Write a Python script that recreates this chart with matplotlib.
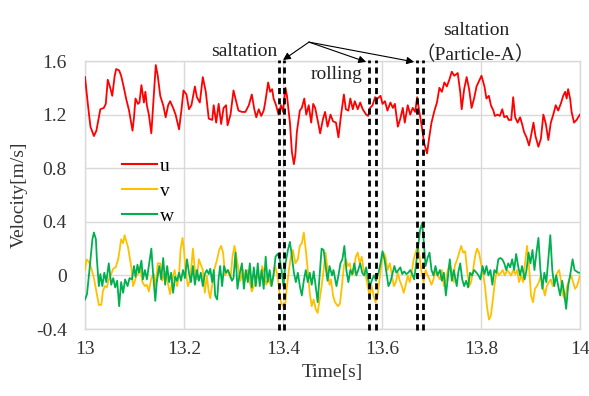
import matplotlib
matplotlib.use("Agg")
import matplotlib.pyplot as plt

plt.rcParams['font.family'] = ['Liberation Serif', 'Noto Sans CJK SC', 'DejaVu Sans']

# ---------------- data ----------------
u_t = [13.000, 13.006, 13.011, 13.018, 13.023, 13.026, 13.031, 13.038, 13.042, 13.046,
       13.051, 13.055, 13.060, 13.063, 13.069, 13.073, 13.078, 13.083, 13.089, 13.096,
       13.099, 13.102, 13.107, 13.110, 13.114, 13.119, 13.122, 13.125, 13.129, 13.134,
       13.139, 13.143, 13.147, 13.152, 13.158, 13.163, 13.168, 13.172, 13.178, 13.183,
       13.190, 13.195, 13.199, 13.205, 13.210, 13.215, 13.222, 13.226, 13.232, 13.238,
       13.244, 13.250, 13.257, 13.260, 13.265, 13.270, 13.275, 13.280, 13.285, 13.288,
       13.294, 13.300, 13.306, 13.310, 13.317, 13.324, 13.331, 13.337, 13.342, 13.346,
       13.351, 13.356, 13.361, 13.364, 13.370, 13.374, 13.378, 13.381, 13.386, 13.391,
       13.396, 13.400, 13.405, 13.408, 13.414, 13.418, 13.422, 13.425, 13.428, 13.434,
       13.438, 13.443, 13.447, 13.452, 13.457, 13.461, 13.465, 13.471, 13.475, 13.481,
       13.485, 13.490, 13.496, 13.501, 13.507, 13.512, 13.517, 13.523, 13.527, 13.532,
       13.536, 13.541, 13.545, 13.551, 13.556, 13.561, 13.568, 13.572, 13.576, 13.581,
       13.586, 13.591, 13.597, 13.601, 13.606, 13.611, 13.617, 13.622, 13.626, 13.632,
       13.637, 13.642, 13.646, 13.652, 13.657, 13.662, 13.667, 13.671, 13.675, 13.680,
       13.685, 13.691, 13.695, 13.700, 13.706, 13.711, 13.716, 13.721, 13.726, 13.731,
       13.736, 13.741, 13.746, 13.753, 13.758, 13.761, 13.766, 13.771, 13.776, 13.781,
       13.786, 13.791, 13.796, 13.801, 13.807, 13.811, 13.816, 13.820, 13.825, 13.828,
       13.834, 13.838, 13.843, 13.847, 13.852, 13.856, 13.861, 13.865, 13.869, 13.874,
       13.879, 13.883, 13.887, 13.892, 13.897, 13.901, 13.906, 13.910, 13.916, 13.921,
       13.926, 13.931, 13.936, 13.941, 13.946, 13.951, 13.956, 13.962, 13.966, 13.970,
       13.973, 13.976, 13.980, 13.983, 13.988, 13.993, 13.998, 14.000]
u_v = [1.48, 1.27, 1.11, 1.04, 1.08, 1.14, 1.24, 1.25, 1.28, 1.46,
       1.40, 1.34, 1.49, 1.54, 1.53, 1.49, 1.41, 1.32, 1.23, 1.08,
       1.18, 1.32, 1.28, 1.29, 1.42, 1.29, 1.37, 1.27, 1.20, 1.06,
       1.34, 1.57, 1.49, 1.34, 1.27, 1.18, 1.27, 1.30, 1.25, 1.20,
       1.09, 1.24, 1.38, 1.35, 1.24, 1.27, 1.41, 1.33, 1.29, 1.48,
       1.37, 1.17, 1.16, 1.27, 1.14, 1.28, 1.13, 1.25, 1.27, 1.12,
       1.20, 1.38, 1.29, 1.23, 1.22, 1.22, 1.27, 1.35, 1.24, 1.18,
       1.24, 1.19, 1.23, 1.29, 1.44, 1.37, 1.39, 1.32, 1.27, 1.20,
       1.27, 1.22, 1.40, 1.34, 1.14, 0.92, 0.83, 0.90, 1.07, 1.23,
       1.25, 1.32, 1.20, 1.27, 1.14, 1.28, 1.25, 1.14, 1.06, 1.17,
       1.22, 1.11, 1.20, 1.15, 1.14, 1.03, 1.19, 1.35, 1.24, 1.23,
       1.32, 1.24, 1.30, 1.24, 1.29, 1.24, 1.20, 1.19, 1.25, 1.27,
       1.33, 1.32, 1.34, 1.28, 1.30, 1.23, 1.29, 1.25, 1.28, 1.11,
       1.17, 1.25, 1.14, 1.27, 1.20, 1.25, 1.22, 1.33, 1.23, 1.12,
       0.99, 0.91, 1.02, 1.14, 1.23, 1.29, 1.40, 1.37, 1.44, 1.41,
       1.46, 1.52, 1.49, 1.51, 1.37, 1.24, 1.39, 1.48, 1.39, 1.25,
       1.32, 1.41, 1.45, 1.49, 1.41, 1.32, 1.34, 1.27, 1.23, 1.19,
       1.20, 1.19, 1.24, 1.18, 1.19, 1.16, 1.16, 1.33, 1.18, 1.14,
       1.18, 1.13, 1.07, 1.03, 0.97, 1.04, 1.14, 1.04, 0.96, 1.02,
       1.20, 1.13, 1.01, 1.14, 1.20, 1.27, 1.23, 1.29, 1.34, 1.37,
       1.32, 1.39, 1.32, 1.22, 1.14, 1.16, 1.19, 1.20]

v_t = [13.000, 13.003, 13.008, 13.013, 13.018, 13.023, 13.028, 13.033, 13.036, 13.040,
       13.044, 13.048, 13.053, 13.057, 13.062, 13.067, 13.070, 13.073, 13.077, 13.080,
       13.083, 13.087, 13.090, 13.094, 13.097, 13.100, 13.104, 13.107, 13.112, 13.116,
       13.121, 13.125, 13.129, 13.134, 13.139, 13.143, 13.147, 13.152, 13.156, 13.161,
       13.164, 13.168, 13.172, 13.176, 13.181, 13.186, 13.190, 13.193, 13.197, 13.200,
       13.203, 13.208, 13.212, 13.215, 13.218, 13.222, 13.226, 13.230, 13.234, 13.238,
       13.242, 13.246, 13.250, 13.253, 13.257, 13.261, 13.267, 13.271, 13.275, 13.279,
       13.283, 13.288, 13.294, 13.298, 13.302, 13.306, 13.311, 13.314, 13.319, 13.324,
       13.329, 13.333, 13.337, 13.342, 13.347, 13.353, 13.358, 13.362, 13.366, 13.371,
       13.376, 13.380, 13.384, 13.389, 13.393, 13.396, 13.400, 13.405, 13.408, 13.412,
       13.416, 13.420, 13.425, 13.430, 13.434, 13.438, 13.442, 13.446, 13.450, 13.454,
       13.458, 13.462, 13.466, 13.470, 13.474, 13.478, 13.482, 13.486, 13.490, 13.494,
       13.497, 13.501, 13.505, 13.511, 13.515, 13.519, 13.523, 13.527, 13.531, 13.535,
       13.539, 13.543, 13.547, 13.551, 13.555, 13.559, 13.563, 13.567, 13.571, 13.575,
       13.579, 13.583, 13.587, 13.591, 13.595, 13.599, 13.603, 13.607, 13.611, 13.616,
       13.620, 13.624, 13.628, 13.632, 13.636, 13.640, 13.644, 13.648, 13.652, 13.656,
       13.660, 13.664, 13.668, 13.672, 13.676, 13.680, 13.684, 13.688, 13.692, 13.696,
       13.700, 13.704, 13.708, 13.712, 13.717, 13.721, 13.725, 13.729, 13.733, 13.737,
       13.741, 13.745, 13.747, 13.752, 13.756, 13.760, 13.764, 13.768, 13.772, 13.776,
       13.780, 13.784, 13.788, 13.792, 13.796, 13.800, 13.804, 13.808, 13.812, 13.816,
       13.820, 13.824, 13.828, 13.832, 13.836, 13.840, 13.844, 13.848, 13.853, 13.857,
       13.861, 13.865, 13.869, 13.873, 13.877, 13.881, 13.885, 13.889, 13.893, 13.897,
       13.901, 13.905, 13.909, 13.913, 13.917, 13.921, 13.925, 13.929, 13.933, 13.937,
       13.941, 13.945, 13.949, 13.954, 13.958, 13.962, 13.966, 13.970, 13.974, 13.978,
       13.982, 13.986, 13.990, 13.994, 13.998, 14.000]
v_v = [0.04, 0.12, 0.10, 0.05, -0.02, -0.12, -0.22, -0.22, -0.12, -0.08,
       -0.09, -0.03, 0.01, 0.05, 0.06, 0.12, 0.19, 0.27, 0.24, 0.30,
       0.26, 0.21, 0.14, 0.05, -0.08, -0.05, 0.00, 0.01, 0.05, -0.05,
       -0.08, -0.07, -0.12, -0.02, 0.01, -0.08, 0.09, 0.09, -0.04, 0.02,
       0.03, -0.07, -0.14, -0.04, 0.04, -0.08, 0.00, 0.19, 0.28, 0.19,
       0.04, -0.08, -0.04, 0.07, 0.20, 0.04, -0.03, 0.12, 0.08, 0.04,
       -0.13, 0.00, -0.12, -0.17, -0.07, 0.04, 0.12, 0.19, 0.22, 0.17,
       0.00, 0.04, -0.02, 0.14, 0.22, 0.14, 0.02, -0.04, 0.04, -0.04,
       0.04, -0.05, -0.12, -0.07, 0.00, -0.04, 0.07, 0.02, -0.07, -0.02,
       -0.08, -0.02, 0.07, 0.00, -0.13, -0.20, -0.23, -0.20, -0.08, 0.04,
       0.14, 0.19, 0.09, 0.12, 0.22, 0.24, 0.32, 0.19, 0.04, -0.13,
       -0.23, -0.18, -0.25, -0.28, -0.18, -0.08, 0.04, 0.17, 0.04, -0.07,
       -0.03, -0.15, -0.20, -0.23, -0.21, -0.08, 0.07, 0.12, 0.07, 0.09,
       0.00, 0.02, 0.14, 0.17, 0.09, 0.14, 0.04, 0.00, -0.08, -0.15,
       -0.08, -0.15, -0.20, -0.15, -0.03, 0.09, 0.17, 0.14, 0.04, 0.09,
       0.00, -0.08, -0.05, 0.02, -0.04, -0.08, -0.13, -0.07, 0.00, -0.05,
       0.02, 0.12, 0.17, 0.22, 0.14, 0.02, -0.05, 0.04, 0.00, -0.03,
       -0.07, -0.03, 0.04, 0.00, -0.03, 0.04, -0.08, -0.04, 0.04, 0.09,
       0.02, -0.05, 0.07, 0.12, 0.17, 0.22, 0.17, 0.18, 0.04, -0.08,
       -0.05, 0.04, 0.14, 0.20, 0.17, 0.09, 0.02, -0.08, -0.23, -0.33,
       -0.30, -0.18, -0.05, 0.04, 0.00, 0.02, 0.04, 0.00, 0.04, 0.02,
       0.00, 0.04, 0.01, 0.04, -0.05, 0.00, -0.05, 0.09, 0.22, 0.07,
       -0.15, -0.20, -0.10, -0.08, -0.05, 0.00, -0.08, -0.15, -0.08, -0.05,
       -0.03, -0.08, -0.03, 0.02, 0.04, -0.05, -0.15, -0.18, -0.08, -0.03,
       0.00, -0.05, -0.10, -0.08, -0.03, 0.00]

w_t = [13.000, 13.004, 13.009, 13.015, 13.018, 13.022, 13.024, 13.028, 13.031, 13.035,
       13.039, 13.043, 13.048, 13.053, 13.057, 13.061, 13.065, 13.069, 13.073, 13.077,
       13.081, 13.086, 13.090, 13.095, 13.099, 13.102, 13.106, 13.109, 13.114, 13.117,
       13.121, 13.125, 13.129, 13.134, 13.137, 13.142, 13.145, 13.150, 13.154, 13.158,
       13.162, 13.166, 13.170, 13.174, 13.178, 13.182, 13.186, 13.190, 13.194, 13.198,
       13.202, 13.206, 13.210, 13.214, 13.218, 13.222, 13.226, 13.230, 13.234, 13.238,
       13.242, 13.246, 13.250, 13.253, 13.257, 13.260, 13.263, 13.267, 13.270, 13.273,
       13.277, 13.281, 13.285, 13.289, 13.292, 13.297, 13.300, 13.304, 13.308, 13.312,
       13.317, 13.321, 13.325, 13.329, 13.333, 13.337, 13.341, 13.345, 13.349, 13.353,
       13.357, 13.361, 13.365, 13.369, 13.373, 13.377, 13.381, 13.385, 13.389, 13.393,
       13.397, 13.401, 13.405, 13.410, 13.414, 13.418, 13.422, 13.426, 13.430, 13.434,
       13.438, 13.442, 13.446, 13.450, 13.454, 13.458, 13.462, 13.466, 13.470, 13.474,
       13.478, 13.482, 13.486, 13.490, 13.494, 13.499, 13.502, 13.508, 13.512, 13.516,
       13.520, 13.524, 13.528, 13.532, 13.536, 13.540, 13.544, 13.548, 13.552, 13.556,
       13.560, 13.564, 13.568, 13.572, 13.576, 13.580, 13.584, 13.588, 13.593, 13.597,
       13.601, 13.605, 13.609, 13.613, 13.617, 13.621, 13.625, 13.629, 13.633, 13.637,
       13.641, 13.645, 13.649, 13.653, 13.657, 13.661, 13.665, 13.669, 13.673, 13.677,
       13.681, 13.684, 13.688, 13.692, 13.696, 13.700, 13.704, 13.708, 13.712, 13.717,
       13.721, 13.725, 13.729, 13.733, 13.737, 13.741, 13.745, 13.751, 13.754, 13.758,
       13.762, 13.766, 13.770, 13.774, 13.778, 13.782, 13.786, 13.791, 13.795, 13.799,
       13.803, 13.807, 13.811, 13.815, 13.819, 13.823, 13.827, 13.831, 13.835, 13.839,
       13.843, 13.847, 13.851, 13.855, 13.859, 13.863, 13.867, 13.871, 13.875, 13.879,
       13.883, 13.888, 13.892, 13.896, 13.900, 13.904, 13.908, 13.912, 13.916, 13.920,
       13.924, 13.928, 13.932, 13.936, 13.940, 13.944, 13.948, 13.952, 13.956, 13.960,
       13.964, 13.968, 13.972, 13.976, 13.980, 13.985, 13.989, 13.993, 13.997, 14.000]
w_v = [-0.18, -0.14, 0.04, 0.27, 0.32, 0.27, 0.12, -0.08, 0.01, -0.08,
       0.02, -0.05, 0.09, -0.07, -0.02, -0.09, -0.04, -0.23, -0.05, -0.13,
       -0.03, -0.08, -0.02, -0.03, 0.07, -0.01, 0.08, 0.02, 0.11, -0.03,
       0.04, -0.03, 0.07, 0.20, 0.04, -0.19, -0.05, 0.07, -0.03, 0.13,
       -0.07, 0.07, -0.05, 0.02, -0.13, -0.01, -0.04, 0.02, -0.04, 0.04,
       -0.02, 0.12, 0.02, -0.05, 0.07, -0.07, 0.04, -0.04, 0.02, -0.08,
       0.01, 0.04, 0.01, 0.05, -0.05, 0.04, -0.15, -0.18, -0.02, 0.07,
       -0.08, 0.07, 0.02, 0.04, 0.01, -0.04, -0.02, 0.17, -0.10, 0.00,
       0.09, -0.10, 0.04, -0.05, 0.09, -0.09, 0.06, -0.08, 0.09, -0.08,
       0.04, -0.10, 0.14, -0.05, 0.04, -0.08, 0.01, 0.14, 0.16, 0.13,
       0.04, -0.08, 0.09, 0.19, 0.25, 0.14, 0.02, -0.05, 0.02, -0.08,
       -0.15, -0.04, 0.04, -0.05, 0.02, -0.07, 0.03, -0.08, -0.20, 0.00,
       0.20, 0.19, 0.07, -0.04, 0.07, 0.00, 0.04, -0.08, 0.00, 0.09,
       0.12, 0.22, 0.04, -0.05, 0.04, 0.01, 0.09, 0.00, 0.04, 0.09,
       0.02, 0.00, 0.06, -0.03, -0.08, -0.03, 0.00, -0.04, 0.02, 0.09,
       0.18, 0.12, 0.02, -0.08, -0.05, 0.01, 0.07, 0.02, 0.04, 0.06,
       0.01, 0.03, 0.01, 0.02, 0.04, 0.01, -0.03, 0.09, 0.22, 0.34,
       0.39, 0.27, 0.07, 0.13, 0.17, 0.04, 0.00, 0.07, 0.00, 0.04,
       -0.04, 0.02, -0.15, -0.02, 0.12, -0.04, 0.04, -0.08, 0.02, 0.09,
       -0.03, -0.08, -0.04, -0.09, 0.02, 0.00, 0.04, 0.02, 0.00, -0.03,
       0.07, 0.01, 0.07, 0.00, 0.04, -0.07, 0.04, 0.02, 0.12, 0.13,
       0.12, 0.09, 0.04, 0.09, 0.06, 0.12, 0.04, 0.16, 0.07, 0.00,
       0.07, -0.03, 0.04, 0.17, 0.09, 0.19, 0.04, 0.17, 0.28, 0.04,
       -0.10, 0.02, -0.05, 0.12, 0.30, 0.04, -0.08, 0.00, -0.08, -0.15,
       -0.04, -0.13, -0.25, -0.08, 0.00, 0.12, 0.04, 0.03, 0.02, 0.02]

series_names = ['u', 'v', 'w']
series_colors = ['#ff0000', '#ffc000', '#00b050']

x_ticks = [13.0, 13.2, 13.4, 13.6, 13.8, 14.0]
x_ticklabels = ['13', '13.2', '13.4', '13.6', '13.8', '14']
y_ticks = [-0.4, 0.0, 0.4, 0.8, 1.2, 1.6]
y_ticklabels = ['-0.4', '0', '0.4', '0.8', '1.2', '1.6']

event_lines = [13.392, 13.402, 13.574, 13.588, 13.671, 13.683]
arrow_origin = (13.4525, 1.741)
arrow_targets = [(13.400, 1.607), (13.568, 1.593), (13.665, 1.593)]

# ---------------- figure ----------------
fig = plt.figure(figsize=(5.89, 3.96), dpi=100)
ax = fig.add_axes([85 / 589, 1 - 329 / 396, 495 / 589, 268 / 396])

for t, vals, name, col in zip([u_t, v_t, w_t], [u_v, v_v, w_v], series_names, series_colors):
    ax.plot(t, vals, color=col, lw=1.3, label=name, zorder=3)

ax.set_xlim(13.0, 14.0)
ax.set_ylim(-0.4, 1.6)
ax.set_xticks(x_ticks)
ax.set_xticklabels(x_ticklabels)
ax.set_yticks(y_ticks)
ax.set_yticklabels(y_ticklabels)
ax.tick_params(axis='both', length=0, labelsize=14, colors='#333333')
ax.tick_params(axis='y', pad=13)
ax.tick_params(axis='x', pad=9)
ax.grid(True, color='#d9d9d9', lw=1.0, zorder=0)
for s in ax.spines.values():
    s.set_color('#d9d9d9')
    s.set_linewidth(1.0)

ax.set_xlabel('Time[s]', fontsize=14, labelpad=4, color='#333333')
ax.set_ylabel('Velocity[m/s]', fontsize=14, labelpad=6, color='#333333')

# dashed event lines
for xe in event_lines:
    ax.plot([xe, xe], [-0.41, 1.61], color='black', lw=2.0, ls=(0, (2.2, 1.5)),
            clip_on=False, zorder=4)

# annotation arrows
for tgt in arrow_targets:
    ax.annotate('', xy=tgt, xytext=arrow_origin, annotation_clip=False,
                arrowprops=dict(arrowstyle='-|>', color='black', lw=0.8,
                                mutation_scale=11, shrinkA=0, shrinkB=0))

ax.text(13.321, 1.674, 'saltation', fontsize=14, ha='center', va='center', color='#222222')
ax.text(13.509, 1.496, 'rolling', fontsize=14, ha='center', va='center', color='#222222')
ax.text(13.790, 1.830, 'saltation', fontsize=14, ha='center', va='center', color='#222222')
ax.text(13.788, 1.644, '（Particle-A）', fontsize=14, ha='center', va='center', color='#222222',
        family=['Liberation Serif', 'Noto Sans CJK SC'])

leg = ax.legend(loc='upper left', bbox_to_anchor=(0.055, 0.677), frameon=False, fontsize=14,
                handlelength=1.8, handletextpad=0.15, labelspacing=0.37, borderpad=0)
for line in leg.get_lines():
    line.set_linewidth(1.5)

fig.savefig('out.png', dpi=100)
